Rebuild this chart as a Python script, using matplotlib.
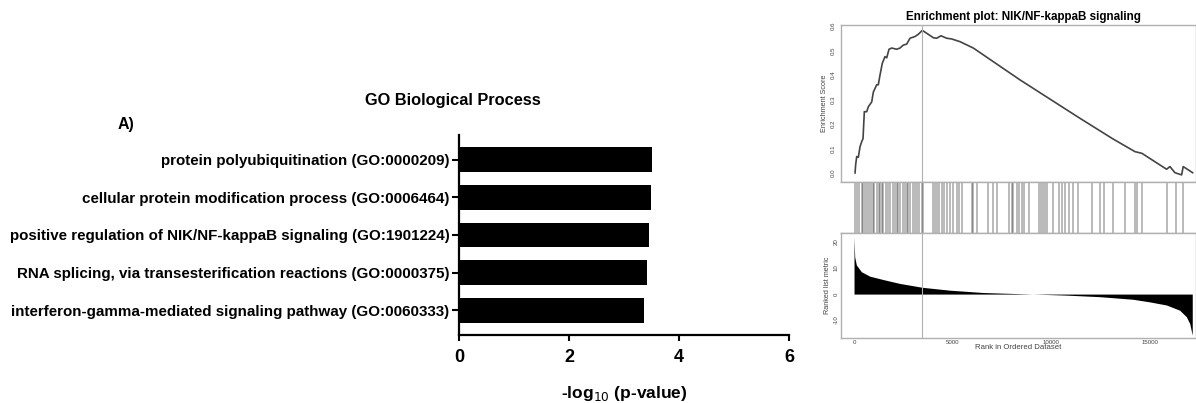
import matplotlib
matplotlib.use("Agg")
import matplotlib.pyplot as plt

plt.rcParams['font.family'] = ['Liberation Sans', 'DejaVu Sans']

# GO enrichment (bar chart)
go_terms = ['protein polyubiquitination (GO:0000209)',
            'cellular protein modification process (GO:0006464)',
            'positive regulation of NIK/NF-kappaB signaling (GO:1901224)',
            'RNA splicing, via transesterification reactions (GO:0000375)',
            'interferon-gamma-mediated signaling pathway (GO:0060333)']
neg_log10_p = [3.51, 3.49, 3.46, 3.41, 3.36]
x_ticks = [0, 2, 4, 6]

# GSEA running enrichment score
es_rank = [51, 86, 137, 218, 304, 390, 456, 522, 643, 724, 897, 978, 1150, 1231,
           1317, 1434, 1570, 1657, 1773, 1910, 2163, 2330, 2498, 2670, 2837, 3090,
           3257, 3460, 3764, 4017, 4190, 4407, 4696, 4950, 5370, 6044, 8410, 11450,
           13120, 14235, 14590, 15841, 16009, 16262, 16601, 16682, 17159]
es_score = [0.0, 0.036, 0.067, 0.064, 0.107, 0.128, 0.14, 0.25, 0.25, 0.27, 0.29,
            0.33, 0.36, 0.36, 0.40, 0.448, 0.475, 0.47, 0.505, 0.51, 0.505, 0.51,
            0.522, 0.526, 0.55, 0.557, 0.566, 0.582, 0.566, 0.552, 0.55, 0.56, 0.55,
            0.547, 0.536, 0.51, 0.38, 0.223, 0.139, 0.087, 0.08, 0.015, 0.026,
            0.001, -0.008, 0.026, 0.001]
peak_rank = 3460

# gene set hits
hit_ranks = [51, 135, 270, 388, 473, 557, 642, 760, 861, 946, 1013, 1149, 1267, 1317,
             1402, 1486, 1621, 1740, 1824, 1959, 2077, 2162, 2246, 2331, 2466, 2584,
             2669, 2753, 2838, 3006, 3091, 3175, 3294, 3429, 3479, 3986, 4104, 4222,
             4324, 4442, 4560, 4695, 4864, 5033, 5202, 5337, 5489, 5962, 6047, 6249,
             6807, 7026, 7229, 7871, 7989, 8073, 8242, 8377, 8496, 8614, 8884, 9391,
             9458, 9560, 9678, 9762, 10100, 10404, 10522, 10691, 10911, 11114, 11367,
             12043, 12465, 12668, 13107, 13732, 14239, 14357, 14576, 15843, 16316,
             16687]

# ranked list metric
metric_rank = [0, 34, 118, 372, 794, 1469, 2314, 3462, 4847, 6536, 9070, 10760,
               12450, 14140, 14980, 15830, 16500, 16840, 17010, 17140]
metric_value = [22, 14.3, 11.2, 8.6, 6.9, 5.6, 4.1, 2.6, 1.5, 0.6, 0.0, -0.4,
                -1.0, -2.0, -3.0, -4.2, -6.2, -8.7, -11.3, -15.8]

W, H = 1196, 403
fig = plt.figure(figsize=(W / 100, H / 100), dpi=100)


def box(x0, y0, x1, y1):
    return [x0 / W, 1 - y1 / H, (x1 - x0) / W, (y1 - y0) / H]


# ---- A) bar chart
ax = fig.add_axes(box(459, 135, 789, 335))
ypos = list(range(len(go_terms)))
ax.barh(ypos, neg_log10_p, height=0.65, color='black')
ax.set_ylim(4.65, -0.65)
ax.set_xlim(0, 6)
ax.set_yticks(ypos)
ax.set_yticklabels(go_terms, fontsize=10.9, fontweight='bold')
ax.set_xticks(x_ticks)
ax.set_xticklabels([str(t) for t in x_ticks], fontsize=13, fontweight='bold')
for s in ['top', 'right']:
    ax.spines[s].set_visible(False)
for s in ['left', 'bottom']:
    ax.spines[s].set_linewidth(1.6)
ax.tick_params(axis='y', length=5, width=1.5, pad=2)
ax.tick_params(axis='x', length=4, width=1.5, pad=6)
ax.set_xlabel('-log$_{10}$ (p-value)', fontsize=12.5, fontweight='bold', labelpad=13)

fig.text(453 / W, 1 - 101 / H, 'GO Biological Process', ha='center', va='center',
         fontsize=11.8, fontweight='bold')
fig.text(118 / W, 1 - 125 / H, 'A)', ha='left', va='center',
         fontsize=11.5, fontweight='bold')

# ---- GSEA enrichment plot
grey = '#b0b0b0'
xlim = (-660, 17330)

ax1 = fig.add_axes(box(841, 25, 1196, 182))
ax1.plot(es_rank, es_score, color='#444444', lw=1.2)
ax1.axvline(peak_rank, color=grey, lw=0.8)
ax1.set_xlim(*xlim)
ax1.set_ylim(-0.037, 0.604)
ax1.set_xticks([])
ax1.set_yticks([0.0, 0.1, 0.2, 0.3, 0.4, 0.5, 0.6])
ax1.set_yticklabels(['0.0', '0.1', '0.2', '0.3', '0.4', '0.5', '0.6'],
                    rotation=90, va='center', fontsize=4.4, color='#444444')
ax1.tick_params(length=0, pad=4)
ax1.set_ylabel('Enrichment Score', fontsize=5.2, color='#444444', labelpad=2)
for s in ax1.spines.values():
    s.set_color(grey)
    s.set_linewidth(1.0)

ax2 = fig.add_axes(box(841, 182, 1196, 233))
ax2.vlines(hit_ranks, 0, 1, color='black', alpha=0.35, lw=1.1)
ax2.set_xlim(*xlim)
ax2.set_ylim(0, 1)
ax2.set_xticks([])
ax2.set_yticks([])
for s in ['left', 'right']:
    ax2.spines[s].set_visible(False)
for s in ['top', 'bottom']:
    ax2.spines[s].set_color(grey)
    ax2.spines[s].set_linewidth(1.0)

ax3 = fig.add_axes(box(841, 233, 1196, 338))
ax3.fill_between(metric_rank, metric_value, 0, color='black', lw=0)
ax3.axvline(peak_rank, color=grey, lw=0.8)
ax3.set_xlim(*xlim)
ax3.set_ylim(-16.9, 23.5)
ax3.set_yticks([-10, 0, 10, 20])
ax3.set_yticklabels(['-10', '0', '10', '20'], rotation=90, va='center',
                    fontsize=4.4, color='#444444')
ax3.set_xticks([0, 5000, 10000, 15000])
ax3.set_xticklabels(['0', '5000', '10000', '15000'], fontsize=4.4, color='#444444')
ax3.tick_params(length=0, pad=1.5)
ax3.set_ylabel('Ranked list metric', fontsize=5.2, color='#444444', labelpad=2)
ax3.set_xlabel('Rank in Ordered Dataset', fontsize=5.6, color='#444444', labelpad=-1)
for s in ax3.spines.values():
    s.set_color(grey)
    s.set_linewidth(1.0)

fig.text(1023 / W, 1 - 17 / H, 'Enrichment plot: NIK/NF-kappaB signaling',
         ha='center', va='center', fontsize=8.4, fontweight='bold')

fig.savefig('out.png', dpi=100)
